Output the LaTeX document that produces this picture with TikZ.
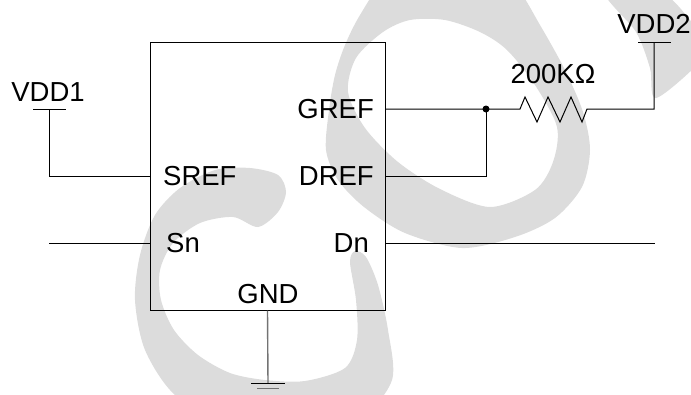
\documentclass[tikz,border=0pt]{standalone}
\usepackage{fontspec}
\setmainfont{Liberation Sans}
\usetikzlibrary{positioning}
\definecolor{wmgray}{RGB}{220,220,220}
\definecolor{gndgray}{RGB}{115,115,115}
\tikzset{
  wire/.style={line width=1pt,black},
  lbl/.style={inner sep=0pt,font=\fontsize{27.5}{33}\selectfont},
  wmark/.style={fill=wmgray,draw=none}
}
\begin{document}
\begin{tikzpicture}[x=1pt,y=-1pt]
        \useasboundingbox (0,0) rectangle (691,394);
        %watermark
        \begin{scope}
        \clip (0,0) rectangle (691,394);
        \fill[wmark,even odd rule]
          plot[smooth cycle] coordinates {(326,150) (329,110) (335,75) (345,45) (360,15) (385,-20) (430,-45) (480,-40) (515,-15) (540,25) (565,70) (583,112) (590,150) (582,187) (555,218) (515,237) (462,248) (405,233) (364,207) (338,180)}
          plot[smooth cycle] coordinates {(410,20) (445,20) (480,32) (507,50) (535,85) (557,127) (553,162) (535,190) (490,207) (440,189) (398,162) (365,128) (348,92) (356,58) (383,32)};
        \fill[wmark] plot[smooth cycle] coordinates {(605,-8) (660,-8) (690,20) (705,45) (700,62) (656,98) (650,68) (636,32)};
        \fill[wmark] plot[smooth cycle] coordinates {(250,168) (215,170) (180,188) (155,215) (140,255) (135,300) (145,350) (175,395) (230,425) (300,430) (360,418) (392,380) (388,330) (378,285) (366,257) (355,251) (350,262) (356,300) (357,340) (345,368) (305,381) (265,380) (230,373) (198,355) (174,330) (161,300) (160,270) (173,243) (200,223) (233,217) (258,227) (278,212) (286,192) (278,175)};
        \end{scope}
        %chip
        \node[draw,line width=1pt,minimum width=235pt,minimum height=268pt,inner sep=0pt] (chip) at (267.5,176) {};
        \coordinate (gref) at (385,109);
        \coordinate (sn)   at (150,243);
        \coordinate (dn)   at (385,243);
        \node[lbl,anchor=base east] (greflbl) at (374,118) {GREF};
        \node[lbl,anchor=base east] (dreflbl) at (374,185) {DREF};
        \node[lbl,anchor=base west] (sreflbl) at (163,185) {SREF};
        \node[lbl,anchor=base west] (snlbl)   at (166,252) {Sn};
        \node[lbl,anchor=base east] (dnlbl)   at (369,252) {Dn};
        \node[lbl,anchor=base]      (gndlbl)  at (268,303) {GND};
        %supplies
        \node[lbl,anchor=base] (vdd1) at (48,101) {VDD1};
        \node[lbl,anchor=base] (vdd2) at (654,33) {VDD2};
        \node[lbl,anchor=base] (rval) at (553,83) {200KΩ};
        \coordinate (vdd1l) at (33,109);
        \coordinate (vdd1r) at (66,109);
        \coordinate (vdd1t) at (49,109);
        \coordinate (vdd2l) at (638,42);
        \coordinate (vdd2r) at (671,42);
        \coordinate (vdd2t) at (654,42);
        \coordinate (node1) at (486,109);
        \coordinate (r1)    at (520,109);
        \coordinate (r2)    at (587,109);
        \coordinate (snend) at (49,243);
        \coordinate (dnend) at (655,243);
        \coordinate (gnd)   at (268,383);

        \draw[wire] (vdd1l) -- (vdd1r);
        \draw[wire] (vdd1t) |- (chip.west);
        \draw[wire] (gref) -- (node1) -- (r1)
          -- ++(5,-12) -- ++(12,25) -- ++(11,-25) -- ++(12,25) -- ++(11,-25) -- ++(11,25) -- (r2)
          -| (vdd2t);
        \draw[wire] (vdd2l) -- (vdd2r);
        \draw[wire] (node1) |- (chip.east);
        \fill (node1) circle (3.5pt);
        \draw[wire] (snend) -- (sn);
        \draw[wire] (dn) -- (dnend);
        %ground
        \draw[line width=1.4pt,gndgray] (chip.south) -- (gnd);
        \draw[wire] ([xshift=-17pt]gnd) -- ([xshift=17pt]gnd);
        \draw[line width=1.8pt,gndgray] ([xshift=-11pt,yshift=-5.5pt]gnd) -- ([xshift=11pt,yshift=-5.5pt]gnd);
\end{tikzpicture}
\end{document}
